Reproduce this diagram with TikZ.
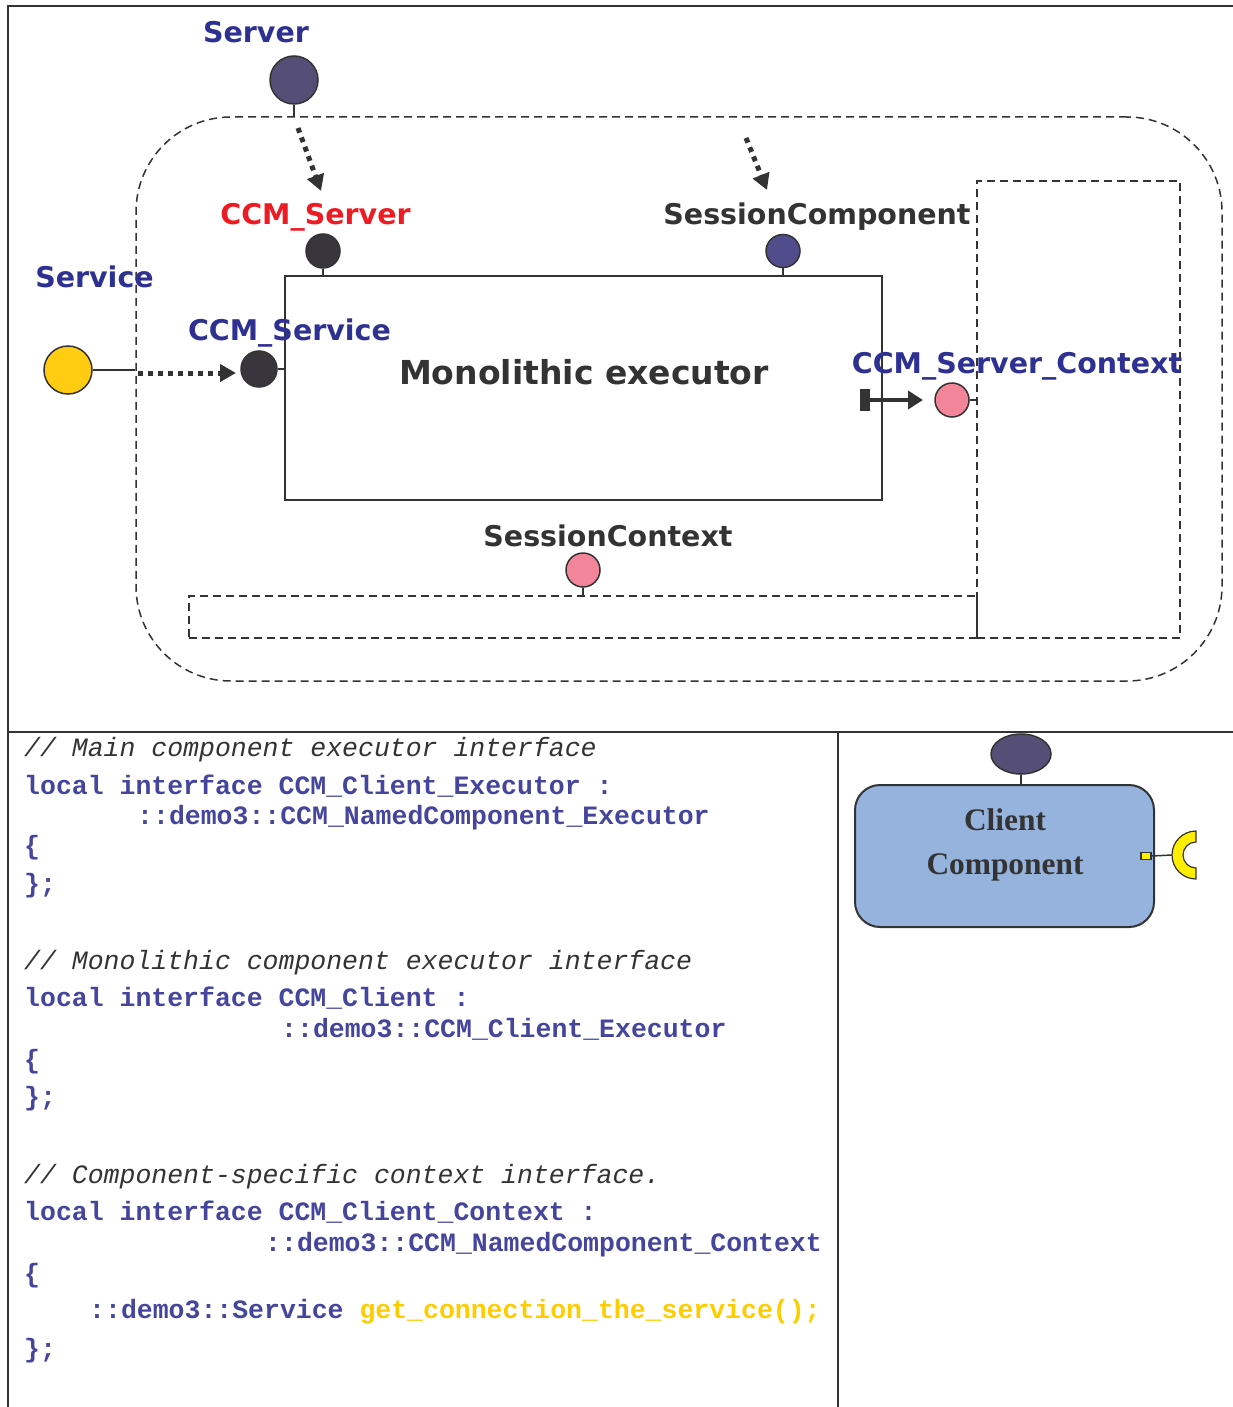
\documentclass[tikz,border=0pt]{standalone}
\usepackage{fontspec}
\setmainfont{Liberation Serif}
\newfontfamily\labelfont{DejaVu Sans}
\newfontfamily\codefont{Liberation Mono}
\usetikzlibrary{arrows.meta,shapes.geometric,calc}

\definecolor{ink}{HTML}{333333}
\definecolor{lblue}{HTML}{2E3192}
\definecolor{lred}{HTML}{ED1C24}
\definecolor{cblue}{HTML}{45459E}
\definecolor{cyell}{HTML}{FFCC00}
\definecolor{srvfill}{HTML}{554F78}
\definecolor{darkfill}{HTML}{38363C}
\definecolor{sesfill}{HTML}{514D8C}
\definecolor{yelfill}{HTML}{FFCC11}
\definecolor{pinkfill}{HTML}{F28599}
\definecolor{compfill}{HTML}{95B3DC}
\definecolor{recfill}{HTML}{FFEE00}

\tikzset{
  frame/.style={draw=ink, line width=2pt},
  dashbox/.style={draw=ink, line width=1.5pt, dash pattern=on 8pt off 5pt},
  port/.style={circle, draw=ink, line width=1.5pt, inner sep=0pt},
  stem/.style={draw=ink, line width=1.5pt},
  dotarrow/.style={draw=ink, line width=5pt, dash pattern=on 5pt off 5pt,
    -{Triangle[length=16pt,width=17pt]}},
  lbl/.style={font=\labelfont\bfseries\fontsize{28.5}{30}\selectfont, inner sep=0pt, anchor=base},
  code/.style={font=\codefont\bfseries\fontsize{26.5}{28}\selectfont, text=cblue, inner sep=0pt, anchor=base west},
  cmt/.style={font=\codefont\itshape\fontsize{26.5}{28}\selectfont, text=ink, inner sep=0pt, anchor=base west},
}

\begin{document}
\begin{tikzpicture}[x=1pt, y=-1pt]
\useasboundingbox (0,0) rectangle (1233,1407);

% page frame and panel dividers
\coordinate (ftl) at (8,6);
\coordinate (ftr) at (1233,6);
\coordinate (fbl) at (8,1407);
\coordinate (fml) at (8,732);
\coordinate (fmr) at (1233,732);
\coordinate (fmv) at (838,732);
\coordinate (fbv) at (838,1407);
\draw[frame] (ftr) -- (ftl) -- (fbl);
\draw[frame] (fml) -- (fmr);
\draw[frame] (fmv) -- (fbv);

% session container and context boxes
\node[dashbox, rounded corners=95pt, minimum width=1086pt, minimum height=564pt, inner sep=0pt] (outer) at (679,399) {};
\node[dashbox, minimum width=203pt, minimum height=457pt, inner sep=0pt] (ctxr) at (1078.5,409.5) {};
\node[dashbox, minimum width=788pt, minimum height=42pt, inner sep=0pt] (ctxb) at (583,617) {};

% executor box
\node[frame, minimum width=597pt, minimum height=224pt, inner sep=0pt] (exec) at (583.5,388) {};
\node[lbl, text=ink, font=\labelfont\bfseries\fontsize{33}{35}\selectfont] (execlbl) at (584,384) {Monolithic executor};

% Server facet
\node[port, fill=srvfill, minimum size=48pt] (srv) at (294,80) {};
\draw[stem] (srv.south) -- (srv.south |- outer.north);
\node[lbl, text=lblue] (srvlbl) at (256,43) {Server};

% CCM_Server facet
\node[port, fill=darkfill, minimum size=34pt] (ccms) at (323,251) {};
\draw[stem] (ccms.south) -- (ccms.south |- exec.north);
\node[lbl, text=lred] (ccmslbl) at (315.5,224) {CCM\_Server};
\coordinate (a1s) at (298,128);
\coordinate (a1e) at (321,191);
\draw[dotarrow] (a1s) -- (a1e);

% SessionComponent facet
\node[port, ellipse, fill=sesfill, minimum width=34pt, minimum height=33pt] (sesc) at (783,251) {};
\draw[stem] (sesc.south) -- (sesc.south |- exec.north);
\node[lbl, text=ink] (sesclbl) at (817,224) {SessionComponent};
\coordinate (a2s) at (746,138);
\coordinate (a2e) at (767,190);
\draw[dotarrow] (a2s) -- (a2e);

% Service facet
\node[port, fill=yelfill, minimum size=48pt] (svc) at (68,370) {};
\draw[stem] (svc.east) -- (svc.east -| outer.west);
\node[lbl, text=lblue] (svclbl) at (94.5,287) {Service};
\node[port, fill=darkfill, minimum size=36pt] (ccmv) at (259,369) {};
\draw[stem] (ccmv.east) -- (ccmv.east -| exec.west);
\node[lbl, text=lblue] (ccmvlbl) at (289.5,340) {CCM\_Service};
\coordinate (a3s) at (138,373);
\coordinate (a3e) at (236,373);
\draw[dotarrow] (a3s) -- (a3e);

% CCM_Server_Context receptacle
\node[port, fill=pinkfill, minimum size=34pt] (ctx) at (952,400) {};
\draw[stem] (ctx.east) -- (ctx.east -| ctxr.west);
\node[fill=ink, minimum width=10pt, minimum height=22pt, inner sep=0pt] (bar) at (865,400) {};
\coordinate (a4e) at (923,400);
\draw[ink, line width=4pt, -{Triangle[length=15pt,width=18pt]}] (bar.east) -- (a4e);
\node[lbl, text=lblue] (ctxlbl) at (1017,373) {CCM\_Server\_Context};

% SessionContext receptacle
\node[port, fill=pinkfill, minimum size=34pt] (sctx) at (583,570) {};
\draw[stem] (sctx.south) -- (sctx.south |- ctxb.north);
\node[lbl, text=ink] (sctxlbl) at (608,546) {SessionContext};

% IDL listing
\node[cmt]  (c1)  at (24,756)  {// Main component executor interface};
\node[code] (c2)  at (24,794)  {local interface CCM\_Client\_Executor :};
\node[code] (c3)  at (137,824) {::demo3::CCM\_NamedComponent\_Executor};
\node[code] (c4)  at (24,854)  {\{};
\node[code] (c5)  at (24,892)  {\};};
\node[cmt]  (c6)  at (24,969)  {// Monolithic component executor interface};
\node[code] (c7)  at (24,1006) {local interface CCM\_Client :};
\node[code] (c8)  at (281,1037) {::demo3::CCM\_Client\_Executor};
\node[code] (c9)  at (24,1068) {\{};
\node[code] (c10) at (24,1105) {\};};
\node[cmt]  (c11) at (24,1183) {// Component-specific context interface.};
\node[code] (c12) at (24,1220) {local interface CCM\_Client\_Context :};
\node[code] (c13) at (265,1251) {::demo3::CCM\_NamedComponent\_Context};
\node[code] (c14) at (24,1282) {\{};
\node[code] (c15) at (89,1318) {::demo3::Service \textcolor{cyell}{get\_connection\_the\_service();}};
\node[code] (c16) at (24,1357) {\};};

% Client component
\node[draw=ink, line width=2pt, fill=compfill, rounded corners=25pt,
      minimum width=299pt, minimum height=142pt, inner sep=0pt] (client) at (1004.5,856) {};
\node[font=\bfseries\fontsize{31.4}{33}\selectfont, text=ink, inner sep=0pt, anchor=base] (cl1) at (1005,830) {Client};
\node[font=\bfseries\fontsize{31.4}{33}\selectfont, text=ink, inner sep=0pt, anchor=base] (cl2) at (1005,874) {Component};
\node[port, ellipse, fill=srvfill, minimum width=60pt, minimum height=40pt] (cfac) at (1021,754) {};
\draw[stem] (cfac.south) -- (cfac.south |- client.north);
\node[draw=ink, line width=1.2pt, fill=recfill, minimum width=10pt, minimum height=7pt, inner sep=0pt] (rsq) at (1146,856) {};
\coordinate (rc) at (1196,855);
\coordinate (rcl) at (1172,855);
\draw[stem] (rsq.east) -- (rcl);
% half-ring receptacle, opening to the right (arc radii are in canvas units)
\draw[ink, line width=1.2pt, fill=recfill]
  ($(rc)+(0,-24)$) arc[start angle=90, end angle=270, radius=24pt]
  -- ($(rc)+(0,13)$) arc[start angle=270, end angle=90, radius=13pt] -- cycle;
\end{tikzpicture}
\end{document}
